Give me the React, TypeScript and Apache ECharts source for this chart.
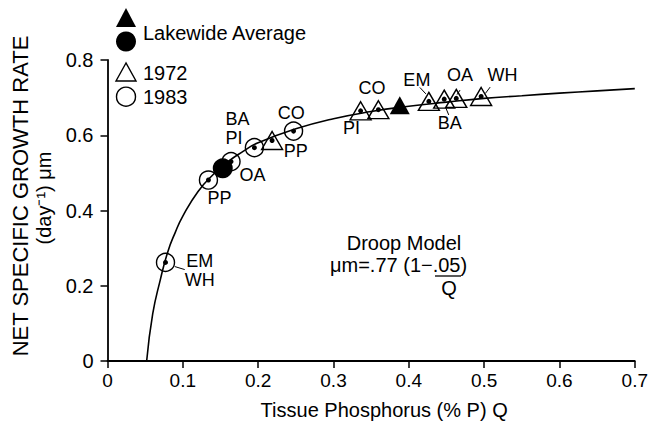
import React, { useEffect, useRef } from "react";
import * as echarts from "echarts";

// Droop model curve
const curveX = [0.052, 0.06, 0.07, 0.08, 0.09, 0.1, 0.12, 0.14, 0.16, 0.18, 0.2, 0.25, 0.3, 0.35, 0.4, 0.45, 0.5, 0.55, 0.6, 0.65, 0.7];
const curveY = [0, 0.125, 0.215, 0.29, 0.342, 0.385, 0.45, 0.495, 0.53, 0.557, 0.58, 0.617, 0.644, 0.663, 0.677, 0.688, 0.698, 0.705, 0.712, 0.718, 0.724];

// 1983 observations (open circles)
const pts1983X = [0.077, 0.134, 0.164, 0.195, 0.247];
const pts1983Y = [0.262, 0.481, 0.53, 0.567, 0.611];

// 1972 observations (open triangles)
const pts1972X = [0.2185, 0.336, 0.3596, 0.4266, 0.447, 0.463, 0.496];
const pts1972Y = [0.586, 0.665, 0.668, 0.69, 0.696, 0.698, 0.703];

// Lakewide averages
const avg1983 = [0.153, 0.512];
const avg1972 = [0.388, 0.68];

// Station labels [text, x, y]
const stationLabels: [string, number, number][] = [
  ["EM", 0.1224, 0.267],
  ["WH", 0.1224, 0.214],
  ["PP", 0.1488, 0.432],
  ["OA", 0.1925, 0.494],
  ["BA", 0.1726, 0.643],
  ["PI", 0.168, 0.594],
  ["PP", 0.25, 0.557],
  ["CO", 0.244, 0.66],
  ["PI", 0.324, 0.619],
  ["CO", 0.351, 0.725],
  ["EM", 0.4107, 0.746],
  ["OA", 0.468, 0.759],
  ["WH", 0.5245, 0.759],
  ["BA", 0.4544, 0.632],
];

// Leader lines [x1, y1, x2, y2]
const leaders: [number, number, number, number][] = [
  [0.0893, 0.251, 0.1025, 0.243],
  [0.4487, 0.675, 0.453, 0.654],
  [0.4147, 0.727, 0.4226, 0.71],
  [0.464, 0.708, 0.468, 0.72],
  [0.5016, 0.711, 0.508, 0.728],
];

const xTicks = [0, 0.7, 0.1];
const yTicks = [0, 0.8, 0.2];

const FONT = "'Liberation Sans', Arial, Helvetica, sans-serif";

export default function App() {
  const ref = useRef<HTMLDivElement>(null);
  useEffect(() => {
    document.body.style.margin = "0";
    if (!ref.current) return;
    const chart = echarts.init(ref.current, null, { renderer: "svg" });
    const leaderSeries = leaders.map((l) => ({
      type: "line",
      data: [[l[0], l[1]], [l[2], l[3]]],
      showSymbol: false,
      lineStyle: { color: "#000", width: 1 },
      silent: true,
      z: 1,
    }));
    chart.setOption({
      animation: false,
      backgroundColor: "#fff",
      grid: { left: 107.5, right: 14.3, top: 60, bottom: 61.7 },
      xAxis: {
        type: "value",
        min: xTicks[0],
        max: xTicks[1],
        interval: xTicks[2],
        name: "Tissue Phosphorus (% P) Q",
        nameLocation: "middle",
        nameGap: 39,
        nameTextStyle: { color: "#000", fontSize: 20, fontFamily: FONT, padding: [0, 0, 0, 26] },
        axisLine: { lineStyle: { color: "#000", width: 1.8 } },
        axisTick: { show: true, length: 7, lineStyle: { color: "#000", width: 1.5 } },
        axisLabel: { color: "#000", fontSize: 19, fontFamily: FONT, margin: 10 },
        splitLine: { show: false },
      },
      yAxis: {
        type: "value",
        min: yTicks[0],
        max: yTicks[1],
        interval: yTicks[2],
        axisLine: { show: true, lineStyle: { color: "#000", width: 1.8 } },
        axisTick: { show: true, length: 7, lineStyle: { color: "#000", width: 1.5 } },
        axisLabel: { color: "#000", fontSize: 20, fontFamily: FONT, margin: 14 },
        splitLine: { show: false },
      },
      series: [
        {
          type: "line",
          data: curveX.map((x, i) => [x, curveY[i]]),
          smooth: true,
          showSymbol: false,
          lineStyle: { color: "#000", width: 1.6 },
          silent: true,
          z: 2,
        },
        ...leaderSeries,
        {
          type: "scatter",
          data: pts1983X.map((x, i) => [x, pts1983Y[i]]),
          symbol: "circle",
          symbolSize: 18,
          itemStyle: { color: "rgba(255,255,255,0)", borderColor: "#000", borderWidth: 1.4, opacity: 1 },
          z: 3,
        },
        {
          type: "scatter",
          data: pts1972X.map((x, i) => [x, pts1972Y[i]]),
          symbol: "triangle",
          symbolSize: [21, 18],
          itemStyle: { color: "rgba(255,255,255,0)", borderColor: "#000", borderWidth: 1.4, opacity: 1 },
          z: 3,
        },
        {
          type: "scatter",
          data: [avg1983],
          symbol: "circle",
          symbolSize: 20,
          itemStyle: { color: "#000", opacity: 1 },
          z: 4,
        },
        {
          type: "scatter",
          data: [avg1972],
          symbol: "triangle",
          symbolSize: [20, 18],
          itemStyle: { color: "#000", opacity: 1 },
          z: 4,
        },
        {
          type: "scatter",
          data: [...pts1983X.map((x, i) => [x, pts1983Y[i]]), ...pts1972X.map((x, i) => [x, pts1972Y[i]])],
          symbol: "circle",
          symbolSize: 5,
          itemStyle: { color: "#000", opacity: 1 },
          z: 5,
        },
        {
          type: "scatter",
          data: stationLabels.map((s) => ({ value: [s[1], s[2]], name: s[0] })),
          symbolSize: 0,
          itemStyle: { opacity: 1 },
          label: {
            show: true,
            position: "inside",
            formatter: (p: any) => p.name,
            color: "#000",
            fontSize: 18,
            lineHeight: 15,
            fontFamily: FONT,
          },
          z: 6,
        },
      ],
      graphic: [
        // legend
        { type: "polygon", shape: { points: [[126, 8], [116, 27], [136, 27]] }, style: { fill: "#000" } },
        { type: "circle", shape: { cx: 126, cy: 41.5, r: 10 }, style: { fill: "#000" } },
        { type: "text", x: 143, y: 32.5, style: { text: "Lakewide Average", fill: "#000", font: `20px ${FONT}`, verticalAlign: "middle" } },
        { type: "polygon", shape: { points: [[126, 63], [116, 81], [136, 81]] }, style: { fill: "none", stroke: "#000", lineWidth: 1.4 } },
        { type: "text", x: 143, y: 72.5, style: { text: "1972", fill: "#000", font: `20px ${FONT}`, verticalAlign: "middle" } },
        { type: "circle", shape: { cx: 126, cy: 96.7, r: 9.5 }, style: { fill: "none", stroke: "#000", lineWidth: 1.4 } },
        { type: "text", x: 143, y: 97, style: { text: "1983", fill: "#000", font: `20px ${FONT}`, verticalAlign: "middle" } },
        // y axis title
        {
          type: "text",
          x: 20,
          y: 196,
          rotation: Math.PI / 2,
          style: { text: "NET SPECIFIC GROWTH RATE", fill: "#000", font: `22px ${FONT}`, align: "center", verticalAlign: "middle" },
        },
        {
          type: "text",
          x: 44,
          y: 198,
          rotation: Math.PI / 2,
          style: { text: "(day\u207B\u00B9) \u03BCm", fill: "#000", font: `20px ${FONT}`, align: "center", verticalAlign: "middle" },
        },
        // Droop model annotation
        { type: "text", x: 404, y: 243, style: { text: "Droop Model", fill: "#000", font: `20px ${FONT}`, align: "center", verticalAlign: "middle" } },
        { type: "text", x: 330, y: 265, style: { text: "\u03BCm=.77 (1\u2212.05)", fill: "#000", font: `20px ${FONT}`, align: "left", verticalAlign: "middle" } },
        { type: "line", shape: { x1: 435, y1: 276, x2: 461, y2: 276 }, style: { stroke: "#000", lineWidth: 1.3 } },
        { type: "text", x: 449, y: 288, style: { text: "Q", fill: "#000", font: `20px ${FONT}`, align: "center", verticalAlign: "middle" } },
      ],
    });
    return () => chart.dispose();
  }, []);
  return <div ref={ref} style={{ width: 651, height: 425 }} />;
}
